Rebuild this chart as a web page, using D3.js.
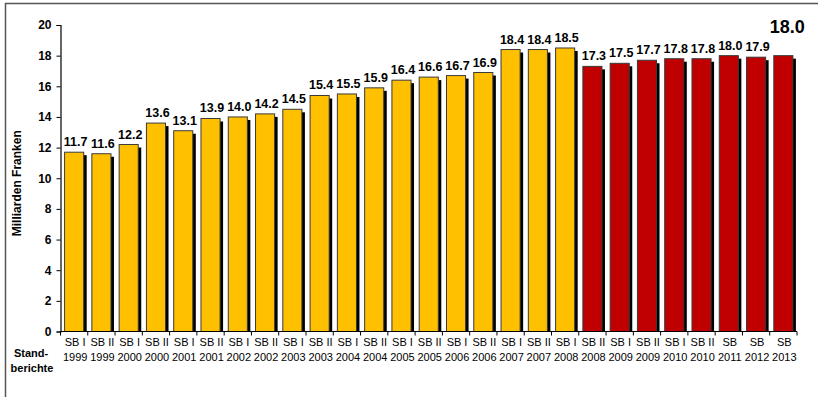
<!DOCTYPE html>
<html>
<head>
<meta charset="utf-8">
<script src="https://cdn.jsdelivr.net/npm/d3@7"></script>
<style>
  html, body { margin: 0; padding: 0; background: #fff; }
  svg { display: block; }
  text { font-family: "Liberation Sans", Arial, sans-serif; }
</style>
</head>
<body>
<div id="chart"></div>
<script>
// Standberichte (status reports) and their totals in billions of francs
const reportLine1 = ["SB I","SB II","SB I","SB II","SB I","SB II","SB I","SB II","SB I","SB II",
  "SB I","SB II","SB I","SB II","SB I","SB II","SB I","SB II","SB I","SB II",
  "SB I","SB II","SB I","SB II","SB","SB","SB"];
const reportLine2 = ["1999","1999","2000","2000","2001","2001","2002","2002","2003","2003",
  "2004","2004","2005","2005","2006","2006","2007","2007","2008","2008",
  "2009","2009","2010","2010","2011","2012","2013"];
const values = [11.7, 11.6, 12.2, 13.6, 13.1, 13.9, 14.0, 14.2, 14.5, 15.4,
  15.5, 15.9, 16.4, 16.6, 16.7, 16.9, 18.4, 18.4, 18.5, 17.3,
  17.5, 17.7, 17.8, 17.8, 18.0, 17.9, 18.0];
// reports up to SB I 2008 vs. from SB II 2008 onward
const period = ["old","old","old","old","old","old","old","old","old","old",
  "old","old","old","old","old","old","old","old","old","new",
  "new","new","new","new","new","new","new"];
const yTicks = [0, 2, 4, 6, 8, 10, 12, 14, 16, 18, 20];

const categories = reportLine1.map((d, i) => d + " " + reportLine2[i]);

const W = 818, H = 397;
const margin = { left: 60.5, right: 21, top: 25, bottom: 65 };

const svg = d3.select("#chart").append("svg")
  .attr("width", W).attr("height", H);

// outer frame (top and left edges)
svg.append("path")
  .attr("d", `M5.5,${H} V3.5 H${W}`)
  .attr("fill", "none").attr("stroke", "#555").attr("stroke-width", 1.5);

const x = d3.scaleBand()
  .domain(categories)
  .range([margin.left, W - margin.right])
  .paddingInner(0.3).paddingOuter(0.15);

const y = d3.scaleLinear().domain([0, 20]).range([H - margin.bottom - 0.5, margin.top]);

const color = d3.scaleOrdinal().domain(["old", "new"]).range(["#FFC000", "#C00000"]);

const bw = x.bandwidth();
const step = x.step();
const plot = svg.append("g");

const rows = categories.map((c, i) => ({ c, v: values[i], p: period[i], i }));

// drop shadows
plot.selectAll("rect.shadow").data(rows).enter().append("rect")
  .attr("class", "shadow")
  .attr("x", d => x(d.c) + 3)
  .attr("y", d => y(d.v) + 3)
  .attr("width", bw)
  .attr("height", d => y(0) - y(d.v) - 3)
  .attr("fill", "#000");

// bars
plot.selectAll("rect.bar").data(rows).enter().append("rect")
  .attr("class", "bar")
  .attr("x", d => x(d.c))
  .attr("y", d => y(d.v))
  .attr("width", bw)
  .attr("height", d => y(0) - y(d.v))
  .attr("fill", d => color(d.p))
  .attr("stroke", "#3a3a3a").attr("stroke-width", 1);

// value labels
const last = rows.length - 1;
plot.selectAll("text.val").data(rows).enter().append("text")
  .attr("class", "val")
  .attr("x", d => x(d.c) + bw / 2 + (d.i === last ? 4 : 1.5))
  .attr("y", d => d.i === last ? y(20) + 8 : y(d.v) - 6)
  .attr("text-anchor", "middle")
  .attr("font-weight", "bold")
  .attr("font-size", d => d.i === last ? 18 : 12.5)
  .attr("fill", "#000")
  .text(d => d3.format(".1f")(d.v));

// y axis
const yAxis = svg.append("g")
  .attr("transform", `translate(${margin.left},0)`)
  .call(d3.axisLeft(y).tickValues(yTicks).tickSize(4).tickPadding(5).tickFormat(d3.format("d")));
yAxis.select(".domain").attr("stroke", "#000").attr("stroke-width", 1.2);
yAxis.selectAll(".tick line").attr("stroke", "#000");
yAxis.selectAll("text").attr("font-size", 12).attr("font-weight", "bold")
  .attr("font-family", "'Liberation Sans', Arial, sans-serif").attr("fill", "#000");

// x axis: baseline with ticks between categories
const xg = svg.append("g");
const x0 = x.range()[0], x1 = x.range()[1];
xg.append("line")
  .attr("x1", x0).attr("x2", x1).attr("y1", y(0)).attr("y2", y(0))
  .attr("stroke", "#000").attr("stroke-width", 1.2);
const bounds = d3.range(categories.length + 1).map(i => x0 + i * step);
xg.selectAll("line.tk").data(bounds).enter().append("line")
  .attr("class", "tk")
  .attr("x1", d => d).attr("x2", d => d)
  .attr("y1", y(0)).attr("y2", y(0) + 4)
  .attr("stroke", "#000");

const lbl = xg.selectAll("text.cat").data(rows).enter().append("text")
  .attr("class", "cat")
  .attr("text-anchor", "middle")
  .attr("font-size", 11)
  .attr("fill", "#000");
lbl.append("tspan").attr("x", d => x(d.c) + bw / 2 + 1).attr("y", y(0) + 14).text(d => reportLine1[d.i]);
lbl.append("tspan").attr("x", d => x(d.c) + bw / 2 + 1).attr("y", y(0) + 29).text(d => reportLine2[d.i]);

// row caption for the x axis
const cap = svg.append("text")
  .attr("text-anchor", "middle")
  .attr("font-size", 11).attr("font-weight", "bold").attr("fill", "#000");
cap.append("tspan").attr("x", 31).attr("y", y(0) + 25).text("Stand-");
cap.append("tspan").attr("x", 32).attr("y", y(0) + 40).text("berichte");

// y axis title
svg.append("text")
  .attr("transform", `translate(21,${(y(0) + y(20)) / 2 + 5}) rotate(-90)`)
  .attr("text-anchor", "middle")
  .attr("font-size", 12).attr("font-weight", "bold").attr("fill", "#000")
  .text("Milliarden Franken");
</script>
</body>
</html>
